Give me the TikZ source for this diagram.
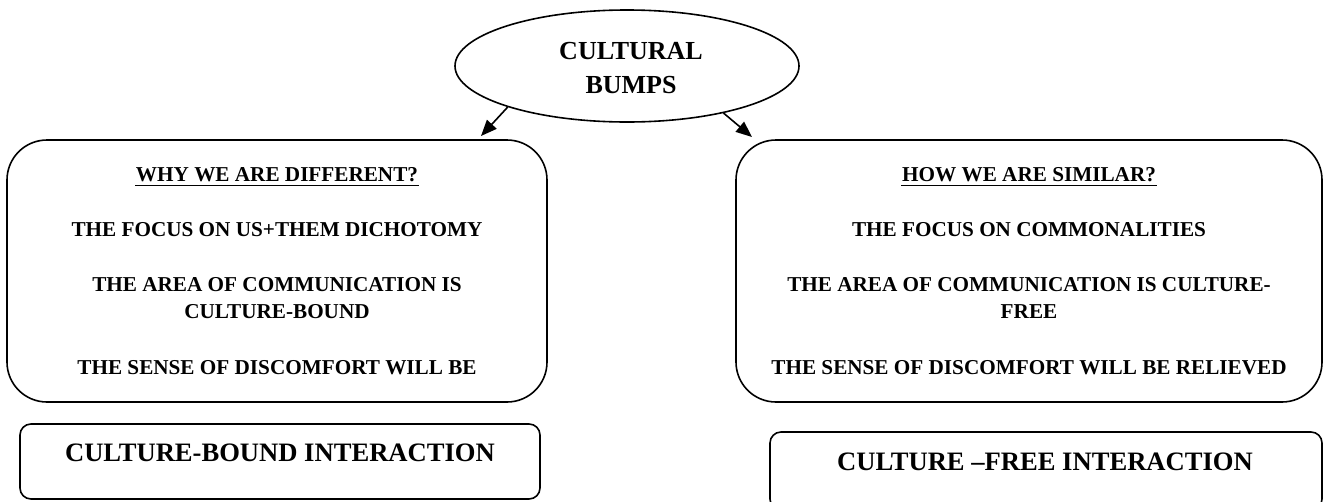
\documentclass[tikz,border=0pt]{standalone}
\usepackage{fontspec}
\setmainfont{Liberation Serif}
\usetikzlibrary{shapes.geometric,arrows.meta}
\begin{document}
\begin{tikzpicture}[x=1pt,y=-1pt, line width=1.6pt,
  bigbox/.style={draw, rectangle, rounded corners=40pt, inner sep=0pt},
  smallbox/.style={draw, rectangle, rounded corners=11pt, inner sep=0pt},
  txt/.style={font=\fontsize{21.2}{25}\selectfont\bfseries, inner sep=0pt},
  bigtxt/.style={font=\fontsize{26.6}{30}\selectfont\bfseries, inner sep=0pt},
  elltxt/.style={font=\fontsize{26}{30}\selectfont\bfseries, inner sep=0pt},
  arr/.style={-{Triangle[length=16pt,width=13pt]}, line width=1.6pt},
  uline/.style={line width=1.2pt}]
\useasboundingbox (0,0) rectangle (1329,501);

% ellipse
\node[draw, ellipse, minimum width=344pt, minimum height=112pt, inner sep=0pt] (ell) at (627,66) {};
\node[elltxt] (e1) at (631,51) {CULTURAL};
\node[elltxt] (e2) at (631,85) {BUMPS};

% big boxes
\node[bigbox, minimum width=540pt, minimum height=262pt] (lbox) at (277,271) {};
\node[bigbox, minimum width=586pt, minimum height=262pt] (rbox) at (1029,271) {};

% small boxes
\node[smallbox, minimum width=520pt, minimum height=75pt] (lsmall) at (280,461.5) {};
\node[smallbox, minimum width=552pt, minimum height=78pt] (rsmall) at (1046,471) {};

% arrows
\coordinate (lt) at (481,136);
\coordinate (rt) at (752,137);
\draw[arr] (ell.199) -- (lt);
\draw[arr] (ell.334) -- (rt);

% left texts
\node[txt] (lh) at (277,175) {WHY WE ARE DIFFERENT?};
\draw[uline] ([yshift=-2.5pt]lh.south west) -- ([yshift=-2.5pt]lh.south east);
\node[txt] (l1) at (277,230) {THE FOCUS ON US+THEM DICHOTOMY};
\node[txt] (l2) at (277,285) {THE AREA OF COMMUNICATION IS};
\node[txt] (l3) at (277,312) {CULTURE-BOUND};
\node[txt] (l4) at (277,368) {THE SENSE OF DISCOMFORT WILL BE};

% right texts
\node[txt] (rh) at (1029,175) {HOW WE ARE SIMILAR?};
\draw[uline] ([yshift=-2.5pt]rh.south west) -- ([yshift=-2.5pt]rh.south east);
\node[txt] (r1) at (1029,230) {THE FOCUS ON COMMONALITIES};
\node[txt] (r2) at (1029,285) {THE AREA OF COMMUNICATION IS CULTURE-};
\node[txt] (r3) at (1029,312) {FREE};
\node[txt] (r4) at (1029,368) {THE SENSE OF DISCOMFORT WILL BE RELIEVED};

% small box texts
\node[bigtxt] (s1) at (280,453) {CULTURE-BOUND INTERACTION};
\node[bigtxt] (s2) at (1045,462) {CULTURE –FREE INTERACTION};
\end{tikzpicture}
\end{document}
